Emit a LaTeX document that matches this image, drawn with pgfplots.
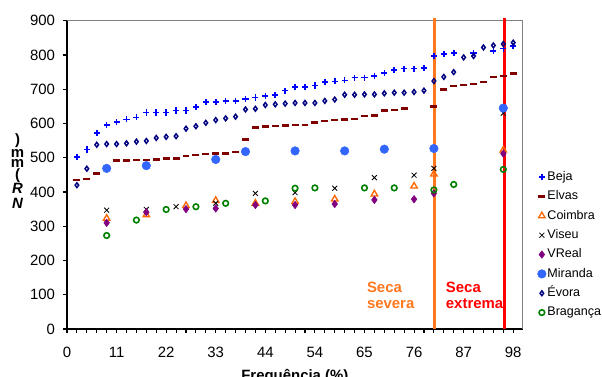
\documentclass[border=0pt]{standalone}
\usepackage{pgfplots}
\pgfplotsset{compat=1.18}
\usepackage{fontspec}
\setmainfont{Liberation Sans}
\definecolor{cBeja}{RGB}{0,0,255}
\definecolor{cElvas}{RGB}{128,0,0}
\definecolor{cCoimbra}{RGB}{255,102,0}
\definecolor{cVReal}{RGB}{128,0,128}
\definecolor{cMiranda}{RGB}{51,102,255}
\definecolor{cEvora}{RGB}{0,0,128}
\definecolor{cBraganca}{RGB}{0,128,0}
\definecolor{cOrange}{RGB}{255,120,30}
\definecolor{cRed}{RGB}{255,0,0}
\begin{document}
\begin{tikzpicture}[x=1pt,y=1pt]
\useasboundingbox (-50.25,-35.25) rectangle (401.25,246.75);
\clip (-50.25,-35.25) rectangle (401.25,246.75);
\begin{axis}[
  at={(0,0)}, anchor=south west,
  scale only axis, width=341.8pt, height=231.2pt,
  xmin=0, xmax=45.96, ymin=0, ymax=900,
  axis x line*=bottom, axis y line*=left,
  axis line style={black, line width=1.1pt},
  xtick={0,5,...,45}, xticklabels={0,11,22,33,44,54,65,76,87,98},
  minor xtick={1,...,45},
  ytick={0,100,...,900},
  tick align=outside, major tick length=3pt, minor tick length=3pt,
  every tick/.style={black, line width=0.8pt},
  tick label style={font=\fontsize{11.2}{13}\selectfont},
  xticklabel style={yshift=-7pt},
  yticklabel style={xshift=-2.5pt},
  /pgf/number format/assume math mode=true,
  clip=false,
  legend style={at={(1.032,0.517)}, anchor=north west, draw=none, fill=none,
    inner sep=0pt, row sep=3.5pt,
    font=\fontsize{9.4}{10}\selectfont,
    nodes={inner sep=1pt, text height=7pt, text depth=2pt}},
  legend cell align=left,
  legend image code/.code={\draw[mark repeat=1,mark phase=1,#1] plot coordinates {(0.12cm,0cm)};},
]
\draw[gray, line width=0.8pt] (rel axis cs:0,1) -- (rel axis cs:1,1) -- (rel axis cs:1,0);
% Beja
\addplot[only marks, mark=+, mark size=2.3pt, color=cBeja, mark options={line width=1.2pt}] coordinates {
(1,503)(2,524)(3,573)(4,596)(5,604)(6,612)(7,618)(8,632)(9,632)(10,632)(11,638)(12,638)(13,648)(14,662)(15,662)(16,666)(17,666)(18,671)(19,676)(20,681)(21,683)(22,696)(23,707)(24,707)(25,711)(26,722)(27,723)(28,726)(29,734)(30,734)(31,738)(32,748)(33,756)(34,760)(35,760)(36,762)(37,797)(38,803)(39,805)(41,806)(43,812)(44,819)(45,826)};
\addlegendentry{Beja}
% Elvas
\addplot[only marks, mark=-, mark size=2.6pt, color=cElvas, mark options={line width=2pt}] coordinates {
(1,435)(2,438)(3,454)(4,470)(5,491)(6,491)(7,493)(8,493)(9,495)(10,498)(11,498)(12,505)(13,508)(14,511)(15,513)(16,513)(17,517)(18,554)(19,588)(20,591)(21,593)(22,595)(23,596)(24,596)(25,602)(26,607)(27,610)(28,612)(29,613)(30,622)(31,624)(32,637)(33,639)(34,644)(37,649)(38,700)(39,709)(40,712)(41,715)(42,721)(43,736)(44,739)(45,746)};
\addlegendentry{Elvas}
% Coimbra
\addplot[only marks, mark=triangle, mark size=2.8pt, color=cCoimbra, mark options={line width=1pt}] coordinates {
(4,323)(8,333)(12,360)(15,375)(19,367)(23,372)(27,379)(31,394)(35,417)(37,452)(44,522)};
\addlegendentry{Coimbra}
% Viseu
\addplot[only marks, mark=x, mark size=2.6pt, color=black, mark options={line width=0.6pt}] coordinates {
(4,347)(8,349)(11,357)(15,367)(19,396)(23,398)(27,411)(31,442)(35,449)(37,469)(44,630)};
\addlegendentry{Viseu}
% VReal
\addplot[only marks, mark=diamond*, mark size=2.8pt, color=cVReal] coordinates {
(4,310)(8,341)(12,350)(15,352)(19,362)(23,362)(27,365)(31,377)(35,379)(37,396)(44,512)};
\addlegendentry{VReal}
% Miranda
\addplot[only marks, mark=*, mark size=3.2pt, color=cMiranda] coordinates {
(4,469)(8,477)(15,495)(18,518)(23,520)(28,520)(32,525)(37,527)(44,645)};
\addlegendentry{Miranda}
% Evora
\addplot[only marks, mark=diamond, mark size=1.8pt, color=cEvora, mark options={line width=1.1pt}] coordinates {
(1,420)(2,468)(3,538)(4,540)(5,540)(6,542)(7,547)(8,549)(9,558)(10,561)(11,563)(12,585)(13,592)(14,602)(15,610)(16,615)(17,620)(18,641)(19,643)(20,654)(21,656)(22,658)(23,660)(24,660)(25,660)(26,666)(27,670)(28,684)(29,684)(30,685)(31,685)(32,688)(33,690)(34,690)(35,692)(36,696)(37,724)(38,736)(39,750)(40,793)(41,797)(42,822)(43,828)(44,832)(45,836)};
\addlegendentry{Évora}
% Braganca
\addplot[only marks, mark=o, mark size=2.1pt, color=cBraganca, mark options={line width=1.2pt}] coordinates {
(4,273)(7,318)(10,349)(13,357)(16,367)(20,374)(23,411)(25,412)(30,412)(33,412)(37,406)(39,422)(44,466)};
\addlegendentry{Bragança}
% drought thresholds
\addplot[forget plot, cOrange, line width=2.3pt] coordinates {(37.1,0)(37.1,907)};
\addplot[forget plot, cRed, line width=2.3pt] coordinates {(44.16,0)(44.16,907)};
\end{axis}
% y label (stacked characters)
\begin{scope}[every node/.style={anchor=base, inner sep=0pt, font=\fontsize{11.2}{12}\selectfont\bfseries}]
\node at (-37.1,138.75) {)};
\node at (-37.1,129) {m};
\node at (-37.1,121.5) {m};
\node at (-37.1,112.5) {(};
\node at (-37.1,101.5) {\itshape R};
\node at (-37.1,90.25) {\itshape N};
\end{scope}
% x label
\node[anchor=base, inner sep=0pt, font=\fontsize{11.2}{12}\selectfont\bfseries] at (170.9,-38.5) {Frequência (\%)};
% annotations
\node[anchor=base west, inner sep=0pt, text=cOrange, font=\fontsize{11.2}{12}\selectfont\bfseries] at (224.8,27.75) {Seca};
\node[anchor=base west, inner sep=0pt, text=cOrange, font=\fontsize{11.2}{12}\selectfont\bfseries] at (224.8,15.75) {severa};
\node[anchor=base west, inner sep=0pt, text=cRed, font=\fontsize{11.2}{12}\selectfont\bfseries] at (284,27.75) {Seca};
\node[anchor=base west, inner sep=0pt, text=cRed, font=\fontsize{11.2}{12}\selectfont\bfseries] at (284,15.75) {extrema};
\end{tikzpicture}
\end{document}
